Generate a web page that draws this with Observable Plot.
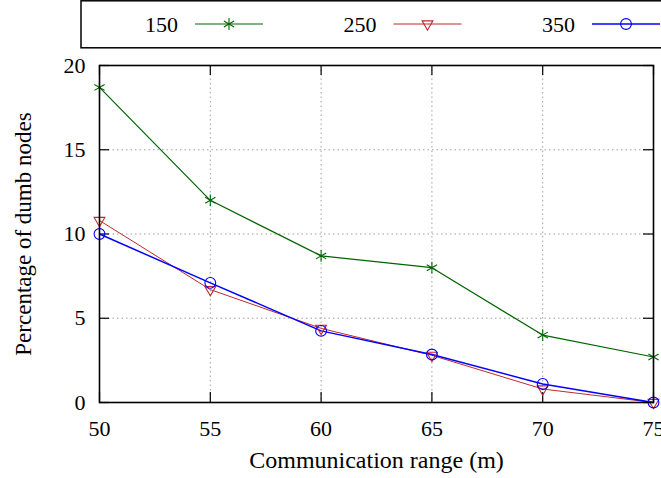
<!DOCTYPE html>
<html>
<head>
<meta charset="utf-8">
<script src="https://cdn.jsdelivr.net/npm/d3@7"></script>
<script src="https://cdn.jsdelivr.net/npm/@observablehq/plot@0.6"></script>
<style>
  html, body { margin: 0; padding: 0; background: #fff; overflow: hidden; }
  #legend { position: relative; width: 661px; height: 49px; }
  #legend svg { position: absolute; left: 0; top: 0; overflow: visible; }
  #chart svg { display: block; }
</style>
</head>
<body>
<div id="legend"></div>
<div id="chart"></div>
<script>
// ---- data ----
const ranges = [50, 55, 60, 65, 70, 75];
const seriesNames = ["150", "250", "350"];
const s150 = [18.7, 12.0, 8.7, 8.0, 4.0, 2.7];
const s250 = [10.8, 6.7, 4.4, 2.8, 0.8, 0.0];
const s350 = [10.0, 7.1, 4.25, 2.85, 1.1, 0.0];
const xTicks = [50, 55, 60, 65, 70, 75];
const yTicks = [0, 5, 10, 15, 20];
const xGrid = [55, 60, 65, 70];
const yGrid = [5, 10, 15];
const xLabel = "Communication range (m)";
const yLabel = "Percentage of dumb nodes";

// ---- styles ----
const colors = {"150": "#006400", "250": "#c0282d", "350": "#0000ff"};
const symbols = {"150": "asterisk", "250": "triangle", "350": "circle"};
const symRot = {"150": 0, "250": 180, "350": 0};
const symR = {"150": 5.6, "250": 4.0, "350": 5.4};
const lineW = {"150": 1.2, "250": 1.0, "350": 1.5};

const valuesBySeries = {"150": s150, "250": s250, "350": s350};
const rows = seriesNames.flatMap(s => ranges.map((r, i) => ({series: s, range: r, value: valuesBySeries[s][i]})));

const W = 661, H = 429, mL = 99, mR = 8, mT = 16, mB = 76;
const innerW = W - mL - mR, innerH = H - mT - mB;
const font = "'Liberation Serif', 'Times New Roman', serif";

const marks = [
  Plot.gridX(xGrid, {stroke: "#a0a0a0", strokeOpacity: 1, strokeDasharray: "1.5,3", strokeWidth: 1}),
  Plot.gridY(yGrid, {stroke: "#a0a0a0", strokeOpacity: 1, strokeDasharray: "1.5,3", strokeWidth: 1}),
  Plot.ruleX(xTicks, {x: d => d, insetTop: innerH - 10, stroke: "black", strokeWidth: 1.2}),
  Plot.ruleX(xTicks, {x: d => d, insetBottom: innerH - 10, stroke: "black", strokeWidth: 1.2}),
  Plot.ruleY(yTicks, {y: d => d, insetRight: innerW - 10, stroke: "black", strokeWidth: 1.2}),
  Plot.ruleY(yTicks, {y: d => d, insetLeft: innerW - 10, stroke: "black", strokeWidth: 1.2}),
  Plot.axisX({ticks: xTicks, tickSize: 0, tickPadding: 18, fontSize: 22, label: null, tickFormat: d => String(d)}),
  Plot.axisY({ticks: yTicks, tickSize: 0, tickPadding: 14, fontSize: 22, label: null, tickFormat: d => String(d)}),
  Plot.text([xLabel], {text: d => d, frameAnchor: "bottom", textAnchor: "middle", dy: 58, lineAnchor: "middle", fontSize: 24}),
  Plot.text([yLabel], {text: d => d, frameAnchor: "left", textAnchor: "middle", dx: -76, rotate: -90, lineAnchor: "middle", fontSize: 23})
];
for (const s of seriesNames) {
  const data = rows.filter(d => d.series === s);
  marks.push(Plot.line(data, {x: "range", y: "value", stroke: colors[s], strokeWidth: lineW[s]}));
}
for (const s of seriesNames) {
  const data = rows.filter(d => d.series === s);
  marks.push(Plot.dot(data, {x: "range", y: "value", stroke: colors[s], fill: "none",
    symbol: symbols[s], r: symR[s], rotate: symRot[s], strokeWidth: 1.1}));
}
marks.push(Plot.frame({stroke: "black", strokeWidth: 1.6}));

const chart = Plot.plot({
  width: W, height: H,
  marginLeft: mL, marginRight: mR, marginTop: mT, marginBottom: mB,
  x: {domain: [50, 75]},
  y: {domain: [0, 20]},
  style: {fontFamily: font, fontSize: "22px", color: "black", background: "white", overflow: "visible"},
  marks
});
document.getElementById("chart").appendChild(chart);

// ---- legend (above the plot) ----
const leg = d3.select("#legend").append("svg").attr("width", 661).attr("height", 49);
leg.append("rect").attr("x", 81).attr("y", 0.8).attr("width", 620).attr("height", 47)
  .attr("fill", "white").attr("stroke", "black").attr("stroke-width", 1.5);
seriesNames.forEach((s, i) => {
  const tx = 178 + i * 198.5;
  const g = leg.append("g");
  g.append("text").attr("x", tx).attr("y", 24).attr("text-anchor", "end")
    .attr("dominant-baseline", "central").attr("font-family", font).attr("font-size", 22).text(s);
  g.append("line").attr("x1", tx + 17).attr("x2", tx + 85).attr("y1", 24).attr("y2", 24)
    .attr("stroke", colors[s]).attr("stroke-width", lineW[s]);
  const sym = {asterisk: d3.symbolAsterisk, triangle: d3.symbolTriangle, circle: d3.symbolCircle}[symbols[s]];
  g.append("path").attr("d", d3.symbol(sym, Math.PI * symR[s] * symR[s])())
    .attr("transform", `translate(${tx + 51},24) rotate(${symRot[s]})`)
    .attr("fill", "none").attr("stroke", colors[s]).attr("stroke-width", 1.1);
});
</script>
</body>
</html>
